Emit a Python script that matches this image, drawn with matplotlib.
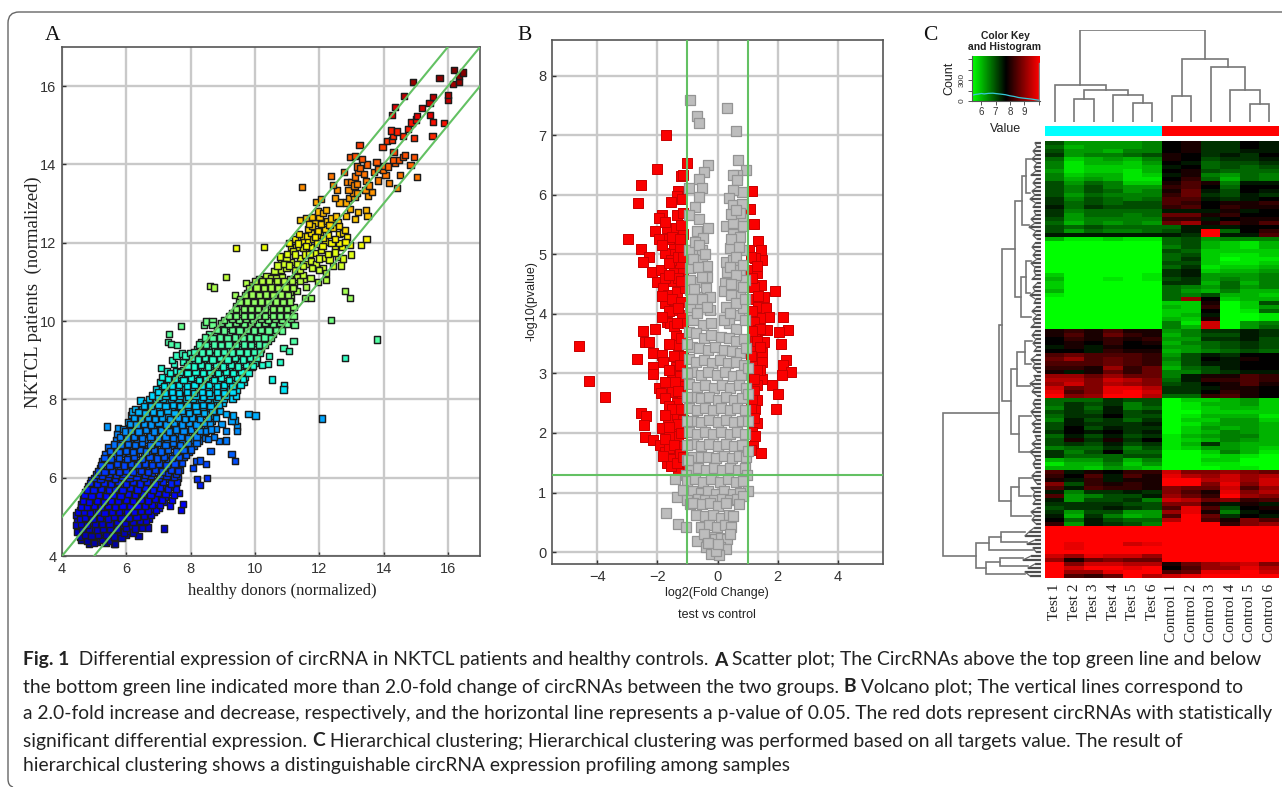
import numpy as np
import matplotlib
matplotlib.use("Agg")
import matplotlib.pyplot as plt
from matplotlib.colors import LinearSegmentedColormap, ListedColormap
from matplotlib.patches import PathPatch
from matplotlib.path import Path

W, H = 1282, 787

# panel A: (healthy donors, NKTCL patients)
a_low = [
    (4.85,4.32),(5.1,4.36),(5.35,4.33),(5.62,4.32),(4.7,4.45),(4.95,4.42),(5.2,4.47),(5.48,4.45),(5.75,4.52),(6.0,4.55),
    (4.6,4.58),(4.82,4.6),(5.05,4.56),(5.3,4.62),(5.55,4.6),(5.8,4.68),(6.05,4.65),(6.38,4.52),(7.17,4.7),(6.68,4.73),
    (4.52,4.72),(4.72,4.75),(4.95,4.7),(5.18,4.76),(5.42,4.73),(5.65,4.78),(5.9,4.8),(6.15,4.77),(6.35,4.82),(6.55,4.86),
    (4.48,4.88),(4.66,4.9),(4.88,4.85),(5.1,4.9),(5.32,4.87),(5.55,4.92),(5.78,4.93),(6.0,4.9),(6.25,4.95),(6.48,4.98),(6.7,4.95),
    (4.45,5.05),(4.62,5.02),(4.8,5.06),(5.02,5.0),(5.24,5.05),(5.46,5.02),(5.7,5.06),(5.92,5.04),(6.15,5.08),(6.38,5.05),(6.6,5.1),(6.85,5.12),
    (4.55,5.18),(4.74,5.2),(4.95,5.15),(5.16,5.2),(5.38,5.16),(5.6,5.21),(5.82,5.18),(6.05,5.22),(6.28,5.18),(6.5,5.24),(6.75,5.2),(7.0,5.22),(7.71,5.17),
    (4.6,5.33),(4.82,5.3),(5.05,5.35),(5.26,5.3),(5.5,5.35),(5.72,5.32),(5.95,5.37),(6.18,5.32),(6.4,5.38),(6.62,5.34),(6.88,5.38),(7.18,5.38),(7.77,5.33),(7.37,5.29),
    (4.65,5.47),(4.88,5.45),(5.1,5.5),(5.32,5.45),(5.55,5.5),(5.78,5.46),(6.0,5.52),(6.25,5.47),(6.48,5.52),(6.72,5.48),(6.95,5.53),(7.2,5.5),(7.41,5.44),
    (4.72,5.62),(4.95,5.6),(5.18,5.65),(5.4,5.6),(5.62,5.65),(5.85,5.6),(6.08,5.66),(6.3,5.62),(6.55,5.67),(6.78,5.62),(7.0,5.68),(7.28,5.65),(7.62,5.61),
    (4.8,5.78),(5.02,5.75),(5.25,5.8),(5.48,5.75),(5.7,5.8),(5.92,5.76),(6.15,5.81),(6.38,5.77),(6.6,5.82),(6.85,5.78),(7.1,5.82),(7.35,5.76),(7.5,5.85),
    (4.92,5.93),(5.12,5.9),(5.35,5.95),(5.58,5.9),(5.8,5.95),(6.02,5.91),(6.25,5.96),(6.48,5.92),(6.7,5.97),(6.95,5.92),(7.2,5.97),(7.42,5.93),(7.6,6.0),
]
a_low_more = [
    (4.6,4.42),(4.78,4.38),(5.0,4.34),(5.25,4.4),(5.5,4.38),(5.85,4.45),(4.55,4.5),(4.72,4.55),(4.92,4.52),(5.12,4.55),(5.38,4.54),(5.62,4.5),(5.92,4.6),(6.2,4.6),
    (4.48,4.62),(4.62,4.68),(4.85,4.68),(5.08,4.66),(5.28,4.7),(5.5,4.68),(5.72,4.7),(6.0,4.72),(6.28,4.7),(6.5,4.72),
    (4.44,4.8),(4.58,4.82),(4.78,4.8),(5.02,4.82),(5.25,4.82),(5.48,4.83),(5.7,4.86),(5.95,4.85),(6.2,4.86),(6.42,4.9),(6.62,4.9),
    (4.55,4.95),(4.72,4.98),(4.95,4.95),(5.18,4.97),(5.42,4.96),(5.62,4.99),(5.85,4.98),(6.08,4.97),(6.32,5.0),(6.55,5.02),(6.78,5.04),
    (4.5,5.12),(4.68,5.12),(4.88,5.1),(5.12,5.12),(5.32,5.1),(5.55,5.12),(5.78,5.12),(6.02,5.13),(6.25,5.13),(6.45,5.16),(6.68,5.16),(6.92,5.17),
    (4.58,5.26),(4.78,5.25),(5.0,5.27),(5.22,5.25),(5.44,5.27),(5.66,5.26),(5.88,5.28),(6.12,5.27),(6.35,5.28),(6.58,5.28),(6.8,5.3),(7.05,5.3),
    (4.65,5.4),(4.85,5.38),(5.08,5.42),(5.3,5.38),(5.52,5.42),(5.75,5.4),(5.98,5.44),(6.2,5.4),(6.45,5.44),(6.68,5.42),(6.9,5.45),(7.12,5.44),
    (4.7,5.55),(4.92,5.53),(5.14,5.57),(5.36,5.53),(5.58,5.57),(5.82,5.54),(6.05,5.58),(6.28,5.55),(6.52,5.58),(6.75,5.55),(6.98,5.6),(7.22,5.58),(7.48,5.55),
    (4.78,5.7),(4.98,5.68),(5.22,5.72),(5.45,5.68),(5.66,5.72),(5.88,5.69),(6.12,5.74),(6.35,5.7),(6.58,5.74),(6.82,5.7),(7.05,5.75),(7.3,5.72),(7.55,5.72),
    (4.88,5.86),(5.08,5.83),(5.3,5.87),(5.52,5.83),(5.75,5.88),(5.98,5.84),(6.2,5.88),(6.42,5.85),(6.65,5.89),(6.9,5.85),(7.15,5.9),(7.38,5.85),(7.58,5.9),
    (5.0,6.0),(5.2,5.98),(5.42,6.02),(5.65,5.98),(5.88,6.02),(6.1,5.99),(6.32,6.03),(6.55,6.0),(6.78,6.04),(7.02,6.0),(7.25,6.04),(7.48,6.02),
]
a_blue = [
    (5.05,6.08),(5.25,6.05),(5.45,6.1),(5.68,6.06),(5.9,6.1),(6.12,6.07),(6.35,6.12),(6.58,6.08),(6.8,6.12),(7.05,6.08),(7.3,6.12),(7.55,6.1),(7.68,6.2),
    (5.18,6.25),(5.38,6.22),(5.6,6.27),(5.82,6.22),(6.05,6.28),(6.28,6.23),(6.5,6.28),(6.72,6.24),(6.95,6.28),(7.18,6.25),(7.42,6.28),(7.72,6.38),
    (5.25,6.42),(5.45,6.38),(5.72,6.42),(5.95,6.4),(6.18,6.44),(6.4,6.4),(6.62,6.45),(6.85,6.4),(7.08,6.45),(7.3,6.42),(7.55,6.45),(7.8,6.52),
    (5.35,6.6),(5.6,6.55),(5.85,6.6),(6.08,6.56),(6.3,6.62),(6.55,6.58),(6.78,6.62),(7.0,6.58),(7.22,6.62),(7.48,6.58),(7.7,6.62),(7.95,6.65),
    (5.42,6.78),(5.72,6.75),(5.98,6.78),(6.2,6.75),(6.45,6.8),(6.68,6.76),(6.9,6.8),(7.15,6.76),(7.38,6.8),(7.62,6.76),(7.85,6.8),(8.1,6.8),
    (5.68,6.95),(5.88,6.92),(6.1,6.96),(6.35,6.92),(6.58,6.97),(6.82,6.93),(7.05,6.97),(7.28,6.93),(7.52,6.97),(7.75,6.93),(8.0,6.97),(8.25,6.95),
    (5.72,7.12),(6.0,7.1),(6.22,7.14),(6.45,7.1),(6.7,7.14),(6.92,7.1),(7.15,7.15),(7.4,7.1),(7.62,7.15),(7.85,7.1),(8.1,7.15),(8.4,7.12),
    (5.75,7.27),(5.9,7.25),(6.12,7.3),(6.35,7.27),(6.58,7.32),(6.82,7.27),(7.05,7.32),(7.28,7.27),(7.52,7.32),(7.75,7.28),(8.0,7.32),(8.25,7.28),(8.5,7.3),
    (6.05,7.42),(6.25,7.45),(6.48,7.42),(6.72,7.46),(6.95,7.42),(7.18,7.46),(7.42,7.42),(7.65,7.47),(7.88,7.43),(8.12,7.47),(8.35,7.43),(8.65,7.45),
    (6.15,7.6),(6.38,7.58),(6.6,7.62),(6.82,7.58),(7.08,7.62),(7.3,7.58),(7.55,7.62),(7.78,7.58),(8.02,7.62),(8.25,7.58),(8.5,7.62),(8.72,7.58),
    (6.18,7.69),(6.28,7.76),(6.5,7.74),(6.72,7.78),(6.95,7.74),(7.2,7.78),(7.42,7.74),(7.65,7.78),(7.9,7.74),(8.12,7.78),(8.38,7.74),(8.62,7.78),(8.85,7.76),
    (6.44,7.97),(6.62,7.9),(6.85,7.94),(7.08,7.9),(7.32,7.94),(7.55,7.9),(7.78,7.94),(8.02,7.9),(8.25,7.94),(8.5,7.9),(8.72,7.94),(9.0,7.92),
]
a_blue_more = [
    (5.12,6.16),(5.32,6.14),(5.55,6.17),(5.78,6.14),(6.0,6.18),(6.22,6.15),(6.45,6.18),(6.68,6.15),(6.9,6.19),(7.12,6.16),(7.38,6.2),(7.6,6.18),
    (5.22,6.33),(5.48,6.3),(5.72,6.34),(5.92,6.31),(6.15,6.35),(6.35,6.32),(6.58,6.36),(6.8,6.32),(7.02,6.36),(7.25,6.33),(7.5,6.36),
    (5.32,6.5),(5.52,6.47),(5.78,6.5),(6.02,6.48),(6.25,6.52),(6.48,6.48),(6.72,6.53),(6.95,6.49),(7.18,6.53),(7.42,6.5),(7.65,6.53),(7.85,6.58),
    (5.5,6.68),(5.78,6.66),(6.0,6.68),(6.22,6.66),(6.42,6.7),(6.62,6.67),(6.85,6.7),(7.08,6.67),(7.3,6.71),(7.55,6.67),(7.78,6.71),(8.02,6.72),
    (5.62,6.85),(5.82,6.84),(6.05,6.87),(6.28,6.83),(6.5,6.88),(6.75,6.84),(6.98,6.88),(7.22,6.84),(7.45,6.88),(7.68,6.84),(7.92,6.88),(8.18,6.88),
    (5.8,7.03),(6.02,7.01),(6.25,7.05),(6.5,7.01),(6.75,7.05),(6.98,7.01),(7.22,7.05),(7.45,7.01),(7.7,7.05),(7.92,7.01),(8.18,7.05),(8.45,7.02),
    (5.95,7.18),(6.15,7.2),(6.38,7.18),(6.62,7.22),(6.85,7.18),(7.08,7.22),(7.32,7.18),(7.55,7.23),(7.78,7.19),(8.02,7.23),(8.3,7.2),(8.48,7.2),
    (6.12,7.38),(6.32,7.36),(6.55,7.38),(6.78,7.36),(7.0,7.39),(7.25,7.36),(7.48,7.39),(7.72,7.36),(7.95,7.39),(8.18,7.36),(8.42,7.39),(8.6,7.38),
    (6.25,7.52),(6.45,7.5),(6.68,7.53),(6.9,7.5),(7.12,7.54),(7.36,7.5),(7.6,7.54),(7.82,7.5),(8.05,7.54),(8.3,7.5),(8.55,7.53),(8.78,7.52),
    (6.38,7.68),(6.6,7.66),(6.82,7.69),(7.05,7.66),(7.28,7.7),(7.5,7.66),(7.72,7.7),(7.95,7.66),(8.18,7.7),(8.42,7.66),(8.68,7.7),(8.92,7.7),
    (6.55,7.84),(6.78,7.83),(7.0,7.86),(7.22,7.83),(7.45,7.86),(7.68,7.83),(7.9,7.86),(8.15,7.83),(8.38,7.86),(8.62,7.83),(8.88,7.85),
    (6.7,8.0),(6.92,8.0),(7.15,8.02),(7.38,8.0),(7.62,8.02),(7.85,8.0),(8.08,8.02),(8.32,8.0),(8.55,8.02),(8.8,8.0),(9.05,8.02),(9.3,8.02),
]
a_cyan = [
    (6.8,8.1),(7.0,8.06),(7.22,8.1),(7.45,8.06),(7.68,8.1),(7.92,8.06),(8.15,8.1),(8.38,8.06),(8.62,8.1),(8.85,8.06),(9.1,8.1),(9.4,8.1),
    (6.92,8.27),(7.12,8.24),(7.35,8.28),(7.58,8.24),(7.82,8.28),(8.05,8.24),(8.28,8.28),(8.52,8.24),(8.75,8.28),(9.0,8.24),(9.22,8.28),(9.45,8.25),
    (7.05,8.44),(7.28,8.42),(7.5,8.46),(7.72,8.42),(7.95,8.46),(8.2,8.42),(8.42,8.46),(8.65,8.42),(8.9,8.46),(9.12,8.42),(9.38,8.46),(9.65,8.45),
    (7.1,8.58),(7.4,8.6),(7.62,8.62),(7.88,8.58),(8.1,8.62),(8.32,8.58),(8.58,8.62),(8.8,8.58),(9.05,8.62),(9.28,8.58),(9.52,8.62),(9.7,8.58),
    (7.08,8.8),(7.27,8.73),(7.54,8.73),(7.78,8.76),(8.0,8.8),(8.22,8.76),(8.48,8.8),(8.7,8.76),(8.95,8.8),(9.18,8.76),(9.42,8.8),(9.65,8.76),(9.92,8.82),
    (7.49,8.91),(7.77,8.95),(7.95,8.92),(8.15,8.96),(8.38,8.92),(8.6,8.96),(8.85,8.92),(9.08,8.96),(9.32,8.92),(9.55,8.96),(9.78,8.92),(10.0,8.92),
    (7.42,9.01),(7.56,9.12),(7.72,9.17),(7.84,9.12),(7.98,9.18),(8.28,9.1),(8.5,9.14),(8.75,9.1),(8.98,9.14),(9.22,9.1),(9.45,9.14),(9.68,9.1),(9.9,9.14),
    (8.2,9.28),(8.42,9.32),(8.65,9.28),(8.88,9.32),(9.12,9.28),(9.35,9.32),(9.58,9.28),(9.8,9.32),(10.05,9.28),(10.2,9.3),
    (8.32,9.46),(8.55,9.5),(8.78,9.46),(9.02,9.5),(9.25,9.46),(9.48,9.5),(9.72,9.46),(9.95,9.5),(10.18,9.46),(10.4,9.5),
    (7.33,9.66),(7.3,9.46),(7.4,9.42),(7.58,9.38),(8.58,9.66),(8.8,9.68),(9.0,9.64),(9.22,9.68),(9.45,9.64),(9.68,9.68),(9.9,9.64),(10.12,9.68),(10.35,9.64),(10.55,9.68),
    (7.7,9.87),(8.41,9.9),(8.49,9.99),(8.68,10.0),(8.68,9.9),(8.95,9.85),(9.18,9.88),(9.4,9.84),(9.62,9.88),(9.85,9.84),(10.08,9.88),(10.3,9.84),(10.52,9.88),(10.78,9.86),
]
a_cyan_more = [
    (6.98,8.18),(7.2,8.16),(7.42,8.18),(7.65,8.16),(7.88,8.19),(8.1,8.16),(8.35,8.19),(8.58,8.16),(8.82,8.19),(9.05,8.16),(9.3,8.19),
    (7.18,8.35),(7.42,8.34),(7.65,8.36),(7.88,8.34),(8.12,8.36),(8.35,8.34),(8.58,8.36),(8.82,8.34),(9.05,8.36),(9.3,8.34),(9.55,8.36),
    (7.3,8.52),(7.52,8.53),(7.78,8.5),(8.02,8.54),(8.25,8.5),(8.48,8.54),(8.72,8.5),(8.95,8.54),(9.2,8.5),(9.45,8.54),(9.62,8.52),
    (7.35,8.68),(7.68,8.7),(7.9,8.67),(8.15,8.7),(8.38,8.67),(8.62,8.7),(8.85,8.67),(9.1,8.7),(9.32,8.67),(9.58,8.7),(9.8,8.68),
    (7.9,8.86),(8.1,8.84),(8.32,8.88),(8.55,8.84),(8.78,8.88),(9.0,8.84),(9.25,8.88),(9.48,8.84),(9.72,8.88),(9.95,8.85),
    (8.05,9.05),(8.22,9.02),(8.45,9.05),(8.68,9.02),(8.92,9.05),(9.15,9.02),(9.38,9.05),(9.62,9.02),(9.85,9.05),(10.05,9.05),
    (8.12,9.22),(8.35,9.2),(8.58,9.22),(8.82,9.2),(9.05,9.22),(9.28,9.2),(9.52,9.22),(9.75,9.2),(9.98,9.22),(10.15,9.2),
    (8.25,9.4),(8.48,9.38),(8.72,9.4),(8.95,9.38),(9.18,9.4),(9.42,9.38),(9.65,9.4),(9.88,9.38),(10.12,9.4),(10.32,9.38),
    (8.45,9.58),(8.68,9.57),(8.92,9.58),(9.15,9.57),(9.38,9.58),(9.62,9.57),(9.85,9.58),(10.08,9.57),(10.3,9.58),(10.5,9.57),
    (8.82,9.78),(9.05,9.76),(9.28,9.78),(9.52,9.76),(9.75,9.78),(9.98,9.76),(10.2,9.78),(10.42,9.76),(10.65,9.78),(10.85,9.76),
    (8.95,9.95),(9.18,9.94),(9.42,9.96),(9.65,9.94),(9.88,9.96),(10.1,9.94),(10.32,9.96),(10.55,9.94),(10.78,9.96),(11.0,9.94),
]
a_green = [
    (9.05,10.02),(9.28,10.06),(9.5,10.02),(9.72,10.06),(9.95,10.02),(10.18,10.06),(10.4,10.02),(10.62,10.06),(10.85,10.02),(11.12,10.05),(11.23,9.9),(12.37,10.03),
    (9.3,10.2),(9.52,10.24),(9.75,10.2),(9.98,10.24),(10.2,10.2),(10.42,10.24),(10.65,10.2),(10.88,10.24),(11.1,10.2),(9.37,10.67),
    (9.42,10.38),(9.65,10.42),(9.88,10.38),(10.1,10.42),(10.32,10.38),(10.55,10.42),(10.78,10.38),(11.02,10.42),(11.2,10.35),
    (9.55,10.56),(9.78,10.6),(10.0,10.56),(10.22,10.6),(10.45,10.56),(10.68,10.6),(10.9,10.56),(11.55,10.58),(11.75,10.58),(11.13,10.6),
    (9.75,10.72),(9.95,10.78),(10.18,10.74),(10.4,10.78),(10.62,10.74),(10.85,10.78),(11.08,10.74),(11.3,10.76),(12.81,10.76),(12.96,10.59),(8.6,10.9),(8.72,10.86),
    (9.9,10.92),(10.1,10.96),(10.32,10.92),(10.55,10.96),(10.78,10.92),(11.0,10.96),(11.22,10.92),(11.6,10.88),(9.72,10.98),(11.96,11.0),
    (10.12,11.08),(10.36,11.15),(10.5,11.1),(10.67,11.1),(10.85,11.12),(11.08,11.08),(11.3,11.12),(11.52,11.08),(9.09,11.13),(11.73,11.1),(12.2,11.04),
    (9.2,10.12),(9.42,10.13),(9.65,10.12),(9.88,10.13),(10.1,10.12),(10.32,10.13),(10.55,10.12),(10.78,10.13),(11.0,10.12),(11.2,10.13),
    (9.42,10.3),(9.65,10.31),(9.88,10.3),(10.1,10.31),(10.32,10.3),(10.55,10.31),(10.78,10.3),(11.0,10.31),
    (9.52,10.48),(9.75,10.5),(9.98,10.48),(10.2,10.5),(10.42,10.48),(10.65,10.5),(10.88,10.48),(11.1,10.5),
    (9.68,10.66),(9.9,10.68),(10.12,10.66),(10.35,10.68),(10.58,10.66),(10.8,10.68),(11.02,10.66),
    (9.82,10.85),(10.05,10.86),(10.28,10.85),(10.5,10.86),(10.72,10.85),(10.95,10.86),(11.18,10.85),
    (10.0,11.02),(10.22,11.03),(10.45,11.02),(10.68,11.03),(10.9,11.02),(11.15,11.02),(11.4,11.02),
]
a_yellow = [
    (10.61,11.27),(10.82,11.31),(10.98,11.35),(11.24,11.31),(11.49,11.18),(12.12,11.35),(12.22,11.22),(11.4,11.3),
    (10.82,11.54),(11.13,11.5),(10.77,11.65),(10.98,11.61),(11.39,11.61),(11.6,11.45),(11.75,11.54),(11.91,11.45),(12.12,11.62),(12.32,11.57),(12.58,11.63),(12.68,11.42),(13.0,11.7),
    (9.4,11.87),(10.29,11.89),(11.13,11.9),(11.29,11.9),(11.18,11.78),(11.49,11.86),(11.75,11.9),(11.86,11.73),(12.06,11.81),(12.48,11.86),(12.72,11.89),(12.96,11.95),(13.3,11.94),
    (11.24,12.1),(11.49,12.06),(11.65,12.03),(11.8,12.09),(12.17,12.03),(12.38,12.0),(13.47,12.1),(11.49,12.18),(11.62,12.18),(11.75,12.25),(12.01,12.2),(12.27,12.2),(12.61,12.23),(12.74,12.25),(12.86,12.14),
    (11.65,12.35),(11.96,12.31),(12.19,12.35),(12.43,12.37),(12.79,12.33),(11.86,12.5),(12.06,12.48),(12.24,12.56),(11.39,12.59),(11.58,12.63),(11.77,12.65),(12.01,12.67),(12.38,12.62),(12.51,12.67),(12.58,12.54),
    (11.96,12.8),(12.12,12.77),(12.2,12.84),(12.84,12.69),(12.96,12.86),(13.21,12.78),(13.46,12.84),(13.5,12.69),(13.12,12.61),
    (10.7,11.42),(10.9,11.45),(11.05,11.42),(11.3,11.45),(11.5,11.4),(11.78,11.35),(12.0,11.3),(12.42,11.4),(11.0,11.72),(11.25,11.7),(11.55,11.7),(11.7,11.72),(12.0,11.6),(12.28,11.72),(12.5,11.75),(12.75,11.6),
    (11.05,12.0),(11.35,11.98),(11.6,11.92),(11.92,11.98),(12.1,11.92),(12.62,12.0),(12.82,12.02),(11.38,12.22),(11.88,12.15),(12.12,12.12),(12.5,12.1),(11.78,12.42),(12.32,12.45),(12.62,12.42),(11.68,12.48),
]
a_red = [
    (11.89,13.04),(12.06,13.12),(12.63,13.03),(12.84,13.03),(12.48,13.14),(12.94,13.14),(13.1,13.17),(13.51,13.2),(13.05,13.28),(13.17,13.27),(13.44,13.34),(13.63,13.3),(12.56,13.35),(12.91,13.35),(14.41,13.4),
    (11.46,13.42),(12.43,13.47),(12.86,13.55),(13.0,13.56),(13.1,13.46),(13.18,13.5),(13.46,13.57),(13.54,13.46),(13.82,13.59),(14.16,13.53),(15.05,13.67),(12.37,13.7),(13.11,13.69),(14.06,13.73),(14.51,13.74),
    (13.22,13.8),(13.4,13.76),(12.78,13.81),(13.7,13.8),(13.83,13.88),(13.98,13.85),(13.18,13.95),(13.28,13.91),(13.49,14.0),(14.03,13.97),(14.15,13.95),(14.84,13.99),(13.78,14.07),(14.35,14.05),
    (13.33,14.14),(14.31,14.12),(14.48,14.12),(14.6,14.19),(12.96,14.2),(13.11,14.22),(14.94,14.2),(14.66,14.25),(14.31,14.31),(13.97,14.44),(13.25,14.49),(14.1,14.59),(14.27,14.62),
    (14.94,14.67),(15.52,14.72),(14.29,14.73),(14.6,14.73),(14.24,14.87),(14.42,14.84),(14.76,14.9),(14.87,15.07),(15.0,15.15),(15.05,15.24),(15.45,15.27),(14.27,15.27),(15.55,15.08),(15.87,15.05),
    (14.36,15.47),(15.2,15.45),(15.43,15.57),(16.0,15.65),(15.55,15.72),(14.63,15.75),(16.0,15.77),(14.92,16.1),(15.74,16.2),(16.17,16.05),(16.35,16.1),(16.35,16.25),(16.2,16.42),(16.46,16.35),
]
a_stray = [
    (13.8,9.53),(12.81,9.06),(10.89,9.32),(11.05,9.23),(11.2,9.5),(10.79,8.95),(10.43,9.1),(10.4,8.91),(10.21,8.87),(10.52,8.51),(10.9,8.36),(10.89,8.25),
    (12.08,7.51),(9.8,7.63),(10.02,7.59),(9.45,7.31),(9.45,7.19),(9.37,7.46),(9.27,7.46),(9.32,7.59),(9.11,7.62),(9.11,7.19),(8.96,7.38),(8.8,7.25),(8.64,7.23),
    (9.11,6.95),(8.88,6.93),(8.73,7.04),(8.54,6.99),(9.27,6.61),(9.38,6.43),(8.62,6.68),(8.49,6.34),(8.08,6.25),(8.18,6.43),(8.3,6.44),(8.21,5.96),(8.52,6.0),(8.3,5.82),
    (5.65,4.3),(5.41,7.31),
]

# panel B: (log2 fold change, -log10 p)
b_red = [
    (-1.72,7.0),(-2.02,6.43),(-2.55,6.16),(-2.64,5.86),(-2.97,5.26),(-2.53,5.09),(-2.26,4.96),(-2.46,4.88),(-1.02,6.53),(-1.21,6.31),(-1.13,6.34),(-1.3,6.06),(-1.35,5.98),(-1.19,5.93),(-1.54,5.88),
    (-1.83,5.66),(-1.96,5.61),(-1.35,5.66),(-1.15,5.7),(-2.07,5.4),(-1.68,5.44),(-1.39,5.44),(-1.96,5.26),(-1.13,5.35),(-1.74,5.03),(-1.41,5.01),(-1.46,5.17),(-1.24,5.1),(-1.6,5.25),(-1.2,5.5),
    (-2.18,4.71),(-1.87,4.74),(-1.46,4.74),(-1.13,4.74),(-2.02,4.54),(-1.5,4.56),(-1.8,4.43),(-1.65,4.32),(-1.35,4.36),(-1.07,4.43),(-1.74,4.18),(-1.43,4.07),(-1.19,3.98),(-1.68,3.87),(-1.57,3.84),(-1.3,4.6),(-1.25,4.85),(-1.55,4.9),
    (-2.47,3.72),(-2.07,3.74),(-1.38,3.65),(-2.4,3.53),(-2.26,3.53),(-4.6,3.46),(-1.3,3.48),(-2.13,3.35),(-1.85,3.31),(-2.67,3.24),(-1.8,3.2),(-1.38,3.11),(-2.16,3.11),(-2.16,2.99),(-1.52,2.97),(-1.21,2.87),
    (-4.28,2.87),(-3.73,2.6),(-1.93,2.76),(-1.87,2.68),(-1.52,2.69),(-1.74,2.58),(-1.19,2.65),(-1.35,2.5),(-2.54,2.34),(-2.37,2.28),(-1.63,2.27),(-1.35,2.3),(-1.13,2.22),(-2.44,2.14),(-1.85,2.08),(-1.46,2.08),(-1.02,2.03),
    (-2.41,1.94),(-2.15,1.88),(-1.5,1.87),(-1.9,1.8),(-1.74,1.68),(-1.39,1.67),(-1.19,1.8),(-1.68,1.49),(-1.52,1.56),(-1.22,1.52),(-1.15,1.4),(-1.6,1.75),(-1.3,1.95),(-1.15,3.3),(-1.45,3.8),(-1.2,3.6),(-1.25,2.95),(-1.6,2.45),(-1.62,1.95),(-1.3,1.36),
    (-1.75,5.55),(-1.5,5.3),(-1.25,5.25),(-1.85,5.15),(-1.6,4.85),(-1.3,4.95),(-1.15,4.95),(-1.75,4.6),(-1.6,4.65),(-1.2,4.55),(-1.85,4.3),(-1.5,4.25),(-1.2,4.2),(-1.6,4.05),(-1.3,4.1),(-1.85,3.95),(-1.15,3.85),(-1.35,3.85),
    (-1.6,3.5),(-1.45,3.3),(-1.25,3.15),(-1.6,3.05),(-1.4,2.85),(-1.75,2.85),(-1.3,2.7),(-1.5,2.4),(-1.2,2.4),(-1.75,2.3),(-1.3,2.15),(-1.6,2.1),(-1.2,2.0),(-1.75,1.9),(-1.45,1.8),(-1.25,1.65),(-1.55,1.45),(-1.35,1.5),(-1.8,1.62),(-1.15,1.6),
    (1.16,6.07),(1.09,5.76),(1.2,5.51),(1.36,5.22),(1.44,5.08),(1.06,5.08),(1.47,4.9),(1.25,4.94),(1.03,4.74),(1.31,4.68),(1.9,4.39),(1.44,4.48),(1.2,4.46),(1.53,4.29),(1.14,4.25),(1.33,4.12),(1.62,4.1),(1.72,3.95),(2.17,3.94),(1.42,3.93),(1.2,3.87),
    (2.34,3.73),(2.05,3.7),(1.64,3.73),(2.1,3.5),(1.36,3.73),(1.53,3.53),(1.06,3.53),(1.27,3.39),(1.48,3.34),(1.23,3.2),(1.48,3.2),(2.26,3.22),(2.17,3.14),(2.45,3.03),(2.14,2.97),(1.16,2.97),(1.47,2.9),(1.81,2.8),(1.31,2.8),
    (2.02,2.65),(1.2,2.71),(1.95,2.41),(1.25,2.41),(1.03,2.24),(1.31,2.17),(1.14,2.02),(1.17,1.79),(1.43,1.66),(1.25,3.6),(1.4,3.05),(1.3,2.55),(1.1,1.72),
    (1.1,4.95),(1.3,4.8),(1.15,4.6),(1.35,4.3),(1.15,4.05),(1.4,3.75),(1.15,3.72),(1.3,3.55),(1.4,3.45),(1.12,3.3),(1.3,3.05),(1.2,2.9),(1.15,2.55),(1.1,2.4),(1.2,2.25),(1.25,1.95),
]
b_grey = [
    (-0.93,7.6),(-0.69,7.33),(-0.63,7.2),(0.31,7.46),(0.6,7.08),(0.68,6.58),(0.95,6.42),(-0.33,6.5),(-0.44,6.39),(0.65,6.34),(0.51,6.34),(-0.63,6.26),(0.64,6.25),(-0.52,6.11),(-0.94,6.12),(0.81,6.04),(0.53,6.08),
    (-0.63,5.96),(0.37,5.94),(0.53,5.83),(0.8,5.85),(-0.76,5.8),(-0.94,5.66),(-0.63,5.6),(0.83,5.6),(0.29,5.47),(0.53,5.52),(-0.33,5.44),(-0.69,5.4),(0.86,5.47),(0.53,5.35),(-0.47,5.27),(0.75,5.3),
    (0.42,5.11),(-0.78,5.06),(-0.96,5.08),(-0.5,5.08),(0.81,5.08),(-0.52,4.9),(0.29,4.88),(0.53,4.9),(-0.35,4.8),(-0.91,4.77),(0.33,4.71),(0.75,4.74),(-0.35,4.62),(-0.69,4.54),(-0.91,4.57),(0.25,4.52),(0.68,4.48),(0.92,4.57),
    (-0.39,4.43),(0.75,4.3),(-0.69,4.29),(-0.24,4.29),(0.2,4.38),(0.44,4.32),(-0.63,4.17),(-0.24,4.07),(0.29,4.12),(0.7,3.98),(-0.91,4.12),(0.37,3.84),(-0.47,3.82),(-0.8,3.9),(-0.2,3.85),(0.2,3.9),(0.85,4.1),(0.6,3.75),(-0.92,4.4),(0.9,3.9),
    (-0.75,5.2),(-0.6,5.15),(-0.42,5.0),(-0.8,4.92),(-0.65,4.78),(-0.5,4.62),(-0.78,4.42),(-0.5,4.25),(-0.35,4.12),(-0.68,4.02),(-0.85,4.25),(0.45,5.25),(0.7,5.12),(0.6,4.95),(0.42,4.78),(0.62,4.65),(0.45,4.5),(0.85,4.45),(0.6,4.18),(0.42,4.02),(0.85,4.82),(0.92,4.25),(0.75,5.7),(0.45,5.68),(0.62,5.75),
    (-0.95,3.7),(-0.7,3.68),(-0.45,3.6),(-0.2,3.65),(0.12,3.62),(0.38,3.6),(0.62,3.55),(0.88,3.58),(-0.85,3.45),(-0.6,3.42),(-0.32,3.4),(-0.08,3.45),(0.2,3.4),(0.48,3.38),(0.75,3.35),(0.95,3.42),
    (-0.95,3.25),(-0.72,3.2),(-0.45,3.22),(-0.18,3.18),(0.08,3.22),(0.35,3.18),(0.62,3.2),(0.88,3.15),(-0.85,3.02),(-0.55,2.98),(-0.3,3.02),(-0.02,2.98),(0.25,3.02),(0.5,2.95),(0.78,2.98),
    (-0.95,2.82),(-0.68,2.78),(-0.4,2.8),(-0.12,2.76),(0.15,2.8),(0.42,2.76),(0.7,2.8),(0.95,2.75),(-0.82,2.6),(-0.55,2.58),(-0.28,2.6),(0,2.56),(0.28,2.6),(0.55,2.56),(0.82,2.58),
    (-0.95,2.42),(-0.68,2.38),(-0.42,2.42),(-0.15,2.38),(0.12,2.42),(0.4,2.38),(0.65,2.42),(0.92,2.38),(-0.82,2.2),(-0.55,2.18),(-0.28,2.22),(0,2.18),(0.28,2.22),(0.55,2.18),(0.82,2.2),
    (-0.95,2.02),(-0.68,1.98),(-0.42,2.02),(-0.15,1.98),(0.12,2.02),(0.4,1.98),(0.65,2.02),(0.92,1.98),(-0.82,1.82),(-0.55,1.78),(-0.28,1.82),(0,1.78),(0.28,1.82),(0.55,1.78),(0.82,1.8),
    (-0.82,1.6),(-0.55,1.6),(-0.3,1.6),(-0.05,1.58),(0.2,1.62),(0.48,1.58),(0.72,1.62),(0.95,1.6),(-0.9,1.4),(-0.65,1.42),(-0.38,1.38),(-0.12,1.42),(0.15,1.38),(0.42,1.42),(0.68,1.38),(0.92,1.42),
    (-1.0,3.5),(-1.02,3.0),(-1.0,2.6),(-1.02,2.2),(-1.0,1.8),(-1.02,1.55),(1.0,3.1),(1.0,2.65),(1.0,2.2),(1.0,1.7),(-1.05,1.3),(-0.98,1.55),(0.98,1.3),
    (-1.4,1.22),(-1.0,1.2),(-0.75,1.22),(-0.48,1.18),(-0.2,1.22),(0.08,1.18),(0.35,1.22),(0.62,1.18),(0.85,1.2),(-1.33,0.92),(1.0,1.02),(-0.85,1.02),(-0.55,1.0),(-0.3,1.03),(-0.05,0.98),(0.22,1.02),(0.5,0.98),(0.75,1.0),
    (-1.15,1.05),(-1.0,0.88),(-0.9,0.8),(-0.65,0.9),(-0.4,0.88),(-0.12,0.88),(0.15,0.9),(0.42,0.88),(0.65,0.9),(0.85,0.95),
    (-0.8,0.82),(-0.52,0.8),(-0.25,0.82),(0.0,0.78),(0.28,0.82),(0.72,0.8),(-1.7,0.66),(-0.72,0.63),(-0.42,0.6),(-0.15,0.62),(0.12,0.58),(0.38,0.62),(-1.3,0.47),(-1.05,0.42),(-0.55,0.42),(-0.28,0.45),(-0.02,0.42),(0.25,0.45),(0.5,0.6),(0.45,0.42),
    (-0.68,0.19),(-0.2,0.25),(-0.08,0.22),(0.12,0.24),(0.32,0.22),(-0.38,0.08),(-0.15,0.05),(0.08,0.08),(0.28,0.05),(-0.22,-0.03),(0.05,-0.05),(-0.05,0.02),(-0.45,0.3),(0.4,0.3),(-0.3,0.16),(0.02,0.14),
]

# panel C: heatmap in -10 (green) .. 10 (red), one row per line
sample_names = ["Test 1", "Test 2", "Test 3", "Test 4", "Test 5", "Test 6",
                "Control 1", "Control 2", "Control 3", "Control 4", "Control 5", "Control 6"]
sample_group = [0, 0, 0, 0, 0, 0, 1, 1, 1, 1, 1, 1]
heat_rows = [
    [-3,-6,-6,-6,-6,-5,0,1,-2,-2,0,-1],[-4,-7,-6,-6,-6,-5,0,1,-2,-2,0,-1],[-3,-6,-6,-7,-5,-5,0,1,-2,-2,-1,-1],[-2,-6,-5,-5,-4,-3,1,0,-2,-1,-2,0],
    [-4,-8,-7,-6,-7,-5,1,0,-3,-2,-2,-1],[-5,-9,-7,-7,-8,-6,0,-1,-4,-3,-3,-2],[-5,-9,-8,-8,-8,-7,-1,0,-4,-3,-4,-3],[-6,-9,-8,-8,-9,-7,0,1,-3,-4,-4,-4],
    [-5,-8,-7,-7,-9,-8,-1,1,-5,-6,-4,-5],[-5,-7,-6,-7,-9,-9,0,2,-4,-7,-4,-5],[-3,-6,-4,-5,-8,-8,1,3,1,-5,-1,-1],[-3,-5,-3,-5,-6,-6,2,3,0,-4,0,0],
    [-3,-5,-3,-4,-6,-5,1,4,-1,-3,0,-1],[-3,-6,-4,-5,-5,-5,2,4,-2,-3,-1,-2],[-2,-5,-3,-4,-5,-4,3,3,-1,-2,-1,0],[-2,-4,-3,-4,-3,-3,3,2,0,1,1,2],
    [-1,-4,-2,-3,-3,-3,2,3,0,2,1,1],[-2,-5,-4,-4,-4,-4,-1,-1,-1,1,-1,0],[-2,-6,-4,-4,-5,-4,4,4,1,2,0,0],[-3,-6,-5,-5,-5,-5,2,2,-1,0,1,1],
    [-4,-7,-5,-6,-5,-6,4,6,1,3,1,3],[-3,-4,-3,-4,-4,-4,-4,-1,-1,-1,0,0],[-3,-6,-4,-5,-5,-4,-3,-1,10,-4,0,2],[-1,-1,-1,-1,-1,-1,-1,-2,10,-1,-1,3],
    [-7,-9,-9,-8,-9,-9,-4,-3,-6,-5,-5,-5],
    [-10,-10,-10,-10,-10,-10,-4,-3,-7,-8,-9,-7],[-10,-10,-10,-10,-10,-10,-5,-3,-7,-8,-9,-7],[-10,-10,-10,-10,-10,-10,-3,-4,-8,-8,-8,-8],[-10,-10,-10,-10,-10,-10,-4,-3,-8,-9,-9,-8],
    [-10,-10,-10,-10,-10,-10,-4,-2,-8,-10,-9,-9],[-10,-10,-10,-10,-10,-10,-3,-3,-8,-9,-9,-8],[-10,-10,-10,-10,-10,-10,-4,-2,-9,-8,-8,-7],[-10,-10,-10,-10,-10,-10,-2,-1,-8,-7,-7,-6],
    [-8,-10,-10,-10,-10,-9,-2,-1,-6,-6,-6,-5],[-7,-10,-10,-9,-10,-9,-3,-2,-6,-5,-6,-5],[-8,-10,-10,-10,-10,-10,-2,-2,-7,-4,-7,-5],[-8,-10,-10,-10,-10,-10,-4,-5,-6,-4,-6,-5],
    [-7,-10,-10,-10,-10,-10,-4,-6,-7,-5,-7,-7],[-9,-10,-10,-10,-10,-10,-4,-5,-3,-7,-7,-8],[-10,-10,-10,-10,-10,-10,-4,6,0,-8,-7,-7],
    [-10,-10,-10,-10,-10,-10,-8,-8,1,-10,-8,-3],[-10,-10,-10,-10,-10,-10,-7,-8,2,-10,-8,-6],[-10,-10,-10,-10,-10,-10,-8,-8,0,-10,-9,-4],[-10,-10,-10,-10,-10,-10,-8,-7,-1,-10,-10,-9],
    [-10,-10,-10,-10,-10,-10,-7,-8,1,-10,-10,-9],[-10,-10,-10,-10,-10,-10,-5,-9,8,-10,-6,-5],[-10,-10,-10,-10,-10,-10,-5,-7,8,-10,-6,-4],
    [1,2,1,3,1,1,-6,-5,-2,-2,-1,-2],[1,3,1,4,2,1,-7,-5,-3,-3,-1,-2],[0,2,1,2,1,2,-6,-6,-2,-2,-1,-3],[0,1,0,2,0,1,-7,-5,-4,-3,-2,-3],[-1,1,-1,1,0,0,-6,-6,-4,-3,-2,-3],[0,0,-1,2,1,1,-7,-6,-5,-4,-3,-4],
    [3,4,3,3,3,2,-6,-3,-1,-2,0,0],[4,6,3,4,3,2,-5,-3,0,-1,1,0],[3,3,3,4,3,2,-6,-3,-1,-1,0,0],[2,2,1,6,2,4,-7,-4,-3,-1,0,0],[1,-1,1,4,2,4,-5,-5,-3,-2,-1,-1],
    [6,6,4,6,4,4,-5,-1,1,1,3,2],[7,7,5,8,7,5,-4,-1,2,2,3,2],[6,8,5,7,6,5,-3,-2,0,1,3,1],[8,4,5,9,9,7,-2,-2,-1,1,1,0],[9,3,5,9,10,8,-2,-2,0,2,1,0],[10,5,6,10,10,7,-4,-4,2,3,1,0],
    [-4,-4,-4,-2,-3,-3,-10,-8,-8,-7,-6,-8],[-4,-2,-3,-2,-5,-3,-10,-9,-7,-7,-6,-8],[-5,-2,-4,-1,-5,-4,-10,-9,-8,-7,-7,-8],[-3,-2,-3,-1,-3,-2,-10,-10,-8,-8,-8,-8],
    [-4,-2,-2,0,-3,-3,-10,-9,-7,-7,-7,-9],[-5,-1,-3,-2,-4,-2,-10,-8,-8,-6,-6,-8],[-3,-1,-2,-2,-2,-1,-10,-9,-7,-6,-6,-7],[-3,0,-3,-1,-2,-2,-10,-8,-6,-7,-6,-7],
    [-2,0,-1,0,-2,-1,-10,-8,-7,-5,-6,-7],[-4,-1,-3,-1,-3,-2,-9,-7,-6,-5,-5,-7],[-3,1,-2,1,-2,0,-9,-8,-7,-5,-6,-7],[-3,-2,-3,-1,-3,-2,-9,-7,-2,-6,-7,-7],
    [-5,-4,-4,-2,-5,-3,-9,-8,-6,-6,-7,-8],[-2,-5,-3,0,-4,-4,-10,-10,-8,-5,-7,-9],[-2,-4,-4,-4,-3,-3,-10,-10,-9,-8,-9,-10],[-7,-6,-6,-4,-7,-5,-10,-10,-8,-8,-10,-10],
    [-9,-7,-7,-5,-8,-6,-10,-10,-9,-9,-10,-10],[-7,-7,-8,-6,-7,-8,-10,-10,-10,-9,-9,-10],
    [3,-1,1,0,2,2,8,5,5,6,5,4],[2,0,3,-1,3,1,9,7,6,8,6,7],[1,-1,2,-1,1,1,10,10,7,8,6,8],[5,-3,2,1,2,1,10,10,5,9,5,8],[3,-1,3,2,2,1,5,4,4,8,3,6],
    [-1,-5,-2,-2,-1,-2,5,3,1,9,5,7],[3,-6,-5,-3,-3,-1,6,4,2,10,6,5],[-1,-6,-3,-3,-2,-5,8,7,4,5,2,3],[-2,-2,-2,-2,-3,-3,5,5,1,-1,1,-1],[-3,-2,-2,-1,-2,-3,3,9,3,-3,0,1],
    [-2,-6,-3,-3,-6,-6,6,9,1,-5,-1,0],[-1,-7,-2,-5,-7,-6,3,10,4,-2,0,-1],[0,-4,-1,-3,-4,-4,7,10,3,1,5,3],[2,-6,-1,-2,-3,-5,10,10,10,2,5,6],
    [10,10,10,10,10,10,10,10,10,10,10,10],[10,10,10,10,10,10,10,10,10,10,10,10],[10,10,10,10,10,10,10,10,10,10,10,10],[10,10,10,10,10,10,10,10,10,10,10,10],
    [10,9,10,10,8,9,10,10,10,10,10,10],[10,9,10,10,10,10,10,10,10,10,10,10],[10,10,10,10,10,10,10,10,10,10,10,10],
    [8,6,9,8,8,6,10,10,10,10,10,10],[6,1,4,5,4,4,10,10,10,10,10,10],[10,5,8,8,7,7,1,4,6,7,8,5],[10,8,10,10,9,10,0,3,6,6,9,7],[10,6,6,9,10,10,3,4,9,9,10,8],[10,3,2,4,10,7,8,9,10,10,10,10],
]
# how far each leaf of the row tree reaches to the left
leaf_depth = [
    6,4,8,5,9,4,7,5,10, 5,8,4,9,6,11,5,8, 7,5,10,6,12,5,8,4,
    6,9,5,8,4,10,6,7,5,9, 4,8,6,11,5,7, 5,9,4,8,6,10,
    6,9,5,8,4,7, 5,10,6,8,4, 7,5,11,6,9,4,
    6,8,5,10,7,4,9,5,8, 6,4,9,5,11,7,5,8,6,
    5,9,7,4, 10,6,8,5,8, 4,10,6,9,5,
    7,12,16, 6,14, 8,5, 10,18, 6,13, 16,11,
]
# (height, child, child); (first row, last row) is a cluster of leaves
row_tree = (98,
    (42,
        (39,
            (26,
                (19, (15, (0, 8), (9, 16)), (17, 24)),
                (20, (15, (25, 34), (35, 40)), (41, 46))),
            (30,
                (24, (16, (47, 52), (53, 57)), (58, 63)),
                (22, (64, 72), (73, 81)))),
        (30, (22, (82, 85), (86, 90)), (91, 95))),
    (65,
        (52, (40, (96, 98), (99, 100)), (101, 102)),
        (55, (41, (103, 104), (105, 106)), (107, 108))))
col_tree = (92,
    (37, 0, (32.3, (23, 1, 2), (27, 3, (19.3, 4, 5)))),
    (63, (25.7, 6, 7), (54.7, 8, (32.3, 9, (18.3, 10, 11)))))

# colour key
key_ticks = [6, 7, 8, 9, 10]
count_ticks = [0, 150, 300, 450, 600]
count_labels = ["0", "", "300", "", ""]
hist_value = [5.4, 5.6, 5.8, 6.0, 6.2, 6.5, 6.8, 7.1, 7.4, 7.7, 8.0, 8.3, 8.6, 8.9, 9.2, 9.5, 9.8, 10.0]
hist_count = [85, 95, 100, 108, 102, 110, 112, 105, 98, 90, 75, 65, 50, 42, 35, 28, 18, 12]
hist_last = 550

caption = [
    [("Fig. 1", True), ("  Differential expression of circRNA in NKTCL patients and healthy controls. ", False), ("A", True),
     (" Scatter plot; The CircRNAs above the top green line and below", False)],
    [("the bottom green line indicated more than 2.0-fold change of circRNAs between the two groups. ", False), ("B", True),
     (" Volcano plot; The vertical lines correspond to", False)],
    [("a 2.0-fold increase and decrease, respectively, and the horizontal line represents a p-value of 0.05. The red dots represent circRNAs with statistically", False)],
    [("significant differential expression. ", False), ("C", True),
     (" Hierarchical clustering; Hierarchical clustering was performed based on all targets value. The result of", False)],
    [("hierarchical clustering shows a distinguishable circRNA expression profiling among samples", False)],
]

SANS = "Liberation Sans"
SERIF = "Liberation Serif"
GREEN = "#63c163"
GRID = "#c9c9c9"
CAP_SIZE = 13.9


def px_axes(left, top, right, bottom):
    return fig.add_axes([left / W, 1 - bottom / H, (right - left) / W, (bottom - top) / H])


def style_plot(ax):
    ax.grid(True, color=GRID, lw=1.7, zorder=0)
    ax.set_axisbelow(True)
    ax.tick_params(direction="in", length=3, width=1, color="#333", labelsize=10.5, labelcolor="#333", pad=4)
    for s in ax.spines.values():
        s.set_color("#555")
        s.set_linewidth(1.2)
    for t in ax.get_xticklabels() + ax.get_yticklabels():
        t.set_fontfamily(SANS)


def draw_tree(ax, node, depth=None, top=False):
    if isinstance(node, int):
        return node + 0.5, 0
    if len(node) == 2:
        rows = list(range(node[0], node[1] + 1))
        d = [depth[r] for r in rows]
        y = [r + 0.5 for r in rows]
        ax.hlines(y, 0, d, color="#4d4d4d", lw=1.6)
        ax.plot(d, y, color="#666", lw=0.9)
        return np.mean(y), max(d)
    h, a, b = node
    pa, ha = draw_tree(ax, a, depth, top)
    pb, hb = draw_tree(ax, b, depth, top)
    if top:
        ax.plot([pa, pa, pb, pb], [ha, h, h, hb], color="#777", lw=1.2, solid_joinstyle="miter")
    else:
        ax.plot([ha, h, h, hb], [pa, pa, pb, pb], color="#777", lw=1.2, solid_joinstyle="miter")
    return (pa + pb) / 2, h


fig = plt.figure(figsize=(W / 100, H / 100), dpi=100, facecolor="white")

# page overlay in pixels: card outline, letters, caption
page = fig.add_axes([0, 0, 1, 1], zorder=5)
page.set_xlim(0, W)
page.set_ylim(H, 0)
page.axis("off")
outline = Path([(13, 787), (8, 786), (8, 779), (8, 23), (8, 12), (19, 12), (1282, 12)],
               [Path.MOVETO, Path.CURVE3, Path.CURVE3, Path.LINETO, Path.CURVE3, Path.CURVE3, Path.LINETO])
page.add_patch(PathPatch(outline, fc="none", ec="#666", lw=1.0))
for letter, x in [("A", 53), ("B", 525), ("C", 930)]:
    page.text(x, 36, letter, family=SERIF, fontsize=15.5, ha="center", va="center", color="#111")

renderer = fig.canvas.get_renderer()
line_ys = [660, 687, 714, 741, 766]
for parts, y in zip(caption, line_ys):
    x = 23
    for txt, bold in parts:
        w = "bold" if bold else "normal"
        page.text(x, y, txt, family="Lato", fontsize=CAP_SIZE, weight=w, color="#222", va="center", ha="left")
        # measure with a stop char so trailing spaces count
        probe = page.text(0, 0, txt + "|", family="Lato", fontsize=CAP_SIZE, weight=w)
        bar = page.text(0, 0, "|", family="Lato", fontsize=CAP_SIZE, weight=w)
        x += probe.get_window_extent(renderer).width - bar.get_window_extent(renderer).width
        probe.remove()
        bar.remove()

# A scatter
axA = px_axes(62, 47, 480, 556)
a_pts = np.array(a_low + a_low_more + a_blue + a_blue_more + a_stray + a_cyan + a_cyan_more + a_green + a_yellow + a_red)
axA.scatter(a_pts[:, 0], a_pts[:, 1], c=a_pts[:, 1], cmap="jet", vmin=3.9, vmax=16.4, marker="s", s=20,
            edgecolors="#1c1c1c", linewidths=1.05, zorder=3)
for off in [1, 0, -1]:
    axA.plot([4, 17], [4 + off, 17 + off], color=GREEN, lw=1.5, zorder=4)
axA.set_xlim(4, 17)
axA.set_ylim(4, 17)
axA.set_xticks(range(4, 17, 2))
axA.set_yticks(range(4, 17, 2))
style_plot(axA)
page.text(282, 591, "healthy donors (normalized)", family=SERIF, fontsize=12, color="#222", ha="center", va="center")
page.text(33, 292, "NKTCL patients  (normalized)", family=SERIF, fontsize=13.5, color="#222", rotation=90, ha="center", va="center")

# B volcano
axB = px_axes(552, 40, 883, 564)
red = np.array(b_red)
grey = np.array(b_grey)
axB.scatter(red[:, 0], red[:, 1], marker="s", s=62, c="#fa0000", edgecolors="#c80000", linewidths=0.7, zorder=3)
axB.scatter(grey[:, 0], grey[:, 1], marker="s", s=62, c="#bdbdbd", edgecolors="#949494", linewidths=0.9, zorder=3)
axB.axvline(-1, color=GREEN, lw=1.5, zorder=4)
axB.axvline(1, color=GREEN, lw=1.5, zorder=4)
axB.axhline(1.3, color=GREEN, lw=1.5, zorder=4)
axB.set_xlim(-5.5, 5.5)
axB.set_ylim(-0.2, 8.6)
axB.set_xticks([-4, -2, 0, 2, 4])
axB.set_yticks(range(0, 9))
style_plot(axB)
page.text(717, 593, "log2(Fold Change)", family=SANS, fontsize=9, color="#222", ha="center", va="center")
page.text(717, 615, "test vs control", family=SANS, fontsize=9, color="#222", ha="center", va="center")
page.text(531, 301, "-log10(pvalue)", family=SANS, fontsize=9, color="#222", rotation=90, ha="center", va="center")

# C heatmap
gbr = LinearSegmentedColormap.from_list("gbr", ["#00ff00", "#000000", "#ff0000"])
axH = px_axes(1045, 141, 1279, 578)
axH.imshow(np.array(heat_rows), cmap=gbr, vmin=-10, vmax=10, aspect="auto", interpolation="nearest")
axH.set_yticks([])
axH.set_xticks(range(12))
axH.set_xticklabels(sample_names, rotation=90, family=SERIF, fontsize=11, color="#222")
axH.tick_params(axis="x", length=0, pad=4)
for s in axH.spines.values():
    s.set_visible(False)

axBar = px_axes(1045, 126, 1279, 136)
axBar.imshow([sample_group], cmap=ListedColormap(["#00ffff", "#ff0000"]), aspect="auto", interpolation="nearest")
axBar.axis("off")

axTop = px_axes(1045, 30, 1279, 122)
draw_tree(axTop, col_tree, top=True)
axTop.set_xlim(0, 12)
axTop.set_ylim(0, 92)
axTop.axis("off")

axLeft = px_axes(937, 141, 1041, 578)
draw_tree(axLeft, row_tree, depth=leaf_depth)
axLeft.set_xlim(104, 0)
axLeft.set_ylim(len(heat_rows), 0)
axLeft.axis("off")

# colour key with histogram
axK = px_axes(972, 56, 1040, 101)
axK.imshow(np.linspace(-1, 1, 120).reshape(1, -1), cmap=gbr, aspect="auto", extent=[5.35, 10.1, 0, 648], interpolation="bilinear")
axK.plot(hist_value, hist_count, color="#35c8d8", lw=0.9)
axK.plot([10, 10], [0, hist_last], color="#888", lw=1)
axK.set_xlim(5.35, 10.1)
axK.set_ylim(0, 648)
axK.set_xticks(key_ticks)
axK.set_xticklabels(["6", "7", "8", "9", ""], family=SANS, fontsize=7, color="#333")
axK.set_yticks(count_ticks)
axK.set_yticklabels(count_labels, rotation=90, va="center", family=SANS, fontsize=6, color="#333")
axK.tick_params(length=3, width=0.7, color="#555", pad=1.5)
for s in ["top", "right"]:
    axK.spines[s].set_visible(False)
axK.spines["left"].set_color("#555")
axK.spines["bottom"].set_color("#555")

page.text(1005, 41.5, "Color Key\nand Histogram", family=SANS, fontsize=7.5, weight="bold", ha="center", va="center", color="#222", linespacing=1.2)
page.text(949, 78, "Count", family=SANS, fontsize=9, rotation=90, ha="center", va="center", color="#222")
page.text(1005, 129, "Value", family=SANS, fontsize=9, ha="center", va="center", color="#222")

fig.savefig("out.png", dpi=100)
